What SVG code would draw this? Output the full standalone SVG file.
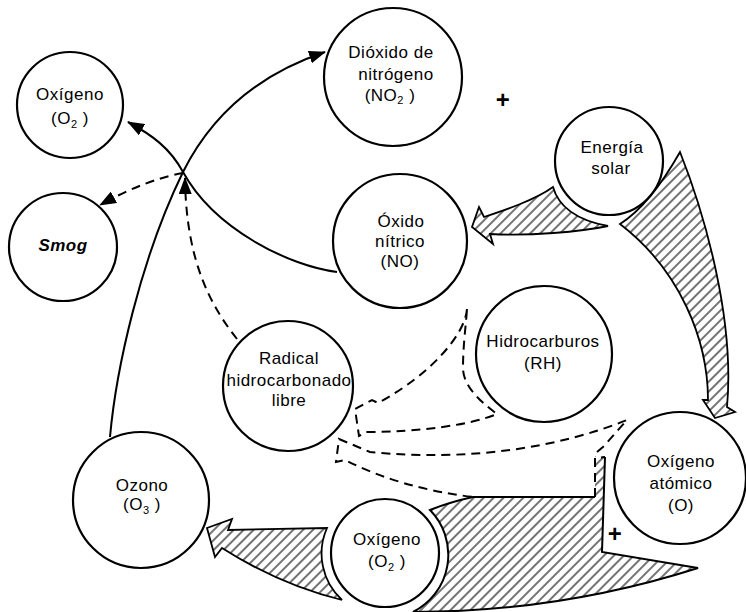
<svg xmlns="http://www.w3.org/2000/svg" width="746" height="612" viewBox="0 0 746 612">
<style>
  .node circle { fill: #fff; stroke: #000; stroke-width: 2.2; }
  text { font-family: "Liberation Sans", Arial, sans-serif; font-size: 17px; fill: #000; text-anchor: middle; letter-spacing: 0.5px; }
  .sub { font-size: 11px; }
  .plus { font-size: 24px; font-weight: bold; }
  .solid { fill: none; stroke: #000; stroke-width: 2; }
  .dash { fill: none; stroke: #000; stroke-width: 2; stroke-dasharray: 9 6; }
  .hatch { fill: url(#hatch); stroke: none; }
  .hout { fill: url(#hatch); stroke: #000; stroke-width: 1.8; stroke-linejoin: miter; }
</style>
<defs>
  <pattern id="hatch" patternUnits="userSpaceOnUse" width="7" height="7" patternTransform="rotate(45)">
    <line x1="1" y1="0" x2="1" y2="7" stroke="#000" stroke-width="1.1"/>
  </pattern>
  <marker id="ah" markerUnits="userSpaceOnUse" markerWidth="17" markerHeight="13" refX="16" refY="6.5" orient="auto">
    <path d="M0,0 L17,6.5 L0,13 Z" fill="#000"/>
  </marker>
</defs>
<rect width="746" height="612" fill="#fff"/>

<g id="connectors">
  <!-- hatched: Energia solar -> Oxido nitrico -->
  <path class="hout" d="M553,187 C558,205 575,220 608,226 C580,232 530,236 490,234 L493,244 L472,227 L479,207 L484,217 C505,210 535,200 553,187 Z"/>
  <!-- hatched: Energia solar -> Oxigeno atomico -->
  <path class="hout" d="M620,224 Q650,205 680,152 C705,215 735,320 727,407 L735,412 L715,418 L703,400 L708,400 C708,340 680,270 620,224 Z"/>
  <!-- hatched: Oxigeno -> Ozono -->
  <path class="hout" d="M327,528 A63,63 0 0 0 342,600 Q280,585 222,548 L215,557 L207,528 L232,519 L228,530 Z"/>
  <!-- big hatched shape: Oxigeno atomico + Oxigeno -->
  <path class="hatch" d="M430,510 Q450,502 473,497 L595,497 L595,456 L605,456 L602,552 L698,568 Q560,612 413,612 A64,64 0 0 0 430,510 Z"/>
  <path class="solid" stroke-width="1.8" d="M595,497 L473,497 Q450,502 430,510 A64,64 0 0 1 413,612 Q560,612 698,568 L602,552 L605,457"/>
  <path class="dash" stroke-width="1.8" stroke-dasharray="7 5" d="M595,497 L595,458 L605,457"/>
  <!-- dashed wide arrow: Hidrocarburos -> Radical -->
  <path class="dash" stroke-width="1.8" stroke-dasharray="8 6" d="M467,309 C465,335 430,375 378,403 L372,400 L355,409 L359,436 L366,432 C420,432 470,425 497,414 C478,400 463,385 463,368 C463,345 466,325 467,309"/>
  <!-- dashed wide arrow: Oxigeno atomico -> Radical -->
  <path class="dash" stroke-width="1.8" stroke-dasharray="8 6" d="M597,452 L604,446 L627,420 C560,447 470,462 370,452 L358,447 L339,439 L336,462 L345,460 Q400,488 473,497"/>
  <!-- solid: Ozono -> Dioxido de nitrogeno -->
  <path class="solid" marker-end="url(#ah)" d="M110,437 C116,370 140,260 183,172 C215,108 265,72 325,52"/>
  <!-- solid: Oxido nitrico -> Oxigeno -->
  <path class="solid" marker-end="url(#ah)" d="M337,272 C290,266 215,230 183,172 C170,148 152,135 128,122"/>
  <!-- dashed: Radical -> crossing -->
  <path class="dash" marker-end="url(#ah)" d="M237,339 C210,305 186,260 185,178"/>
  <!-- dashed: crossing -> Smog -->
  <path class="dash" marker-end="url(#ah)" d="M183,173 Q145,180 100,205"/>
</g>

<g id="oxigeno-o2-top" class="node">
  <circle cx="70" cy="105" r="53"/>
  <text x="70" y="100">Oxígeno</text>
  <text x="70" y="124">(O<tspan class="sub" dy="4">2</tspan><tspan dy="-4"> )</tspan></text>
</g>
<g id="smog" class="node">
  <circle cx="63" cy="247" r="54"/>
  <text x="63" y="251" font-style="italic" font-weight="bold">Smog</text>
</g>
<g id="dioxido-nitrogeno" class="node">
  <circle cx="393" cy="77" r="69"/>
  <text x="391" y="58">Dióxido de</text>
  <text x="396" y="80">nitrógeno</text>
  <text x="390" y="101">(NO<tspan class="sub" dy="3">2</tspan><tspan dy="-3"> )</tspan></text>
</g>
<g id="energia-solar" class="node">
  <circle cx="609" cy="161" r="54"/>
  <text x="612" y="153">Energía</text>
  <text x="611" y="174">solar</text>
</g>
<g id="oxido-nitrico" class="node">
  <circle cx="400" cy="241" r="67"/>
  <text x="401" y="227">Óxido</text>
  <text x="400" y="247">nítrico</text>
  <text x="400" y="267">(NO)</text>
</g>
<g id="hidrocarburos" class="node">
  <circle cx="544" cy="354" r="68"/>
  <text x="543" y="347">Hidrocarburos</text>
  <text x="543" y="369">(RH)</text>
</g>
<g id="radical-hidrocarbonado" class="node">
  <circle cx="288" cy="386" r="65"/>
  <text x="289" y="364">Radical</text>
  <text x="289" y="386">hidrocarbonado</text>
  <text x="289" y="406">libre</text>
</g>
<g id="ozono" class="node">
  <circle cx="141" cy="500" r="68"/>
  <text x="142" y="491">Ozono</text>
  <text x="142" y="510">(O<tspan class="sub" dy="4">3</tspan><tspan dy="-4"> )</tspan></text>
</g>
<g id="oxigeno-o2-bottom" class="node">
  <circle cx="385" cy="553" r="54"/>
  <text x="387" y="545">Oxígeno</text>
  <text x="387" y="567">(O<tspan class="sub" dy="4">2</tspan><tspan dy="-4"> )</tspan></text>
</g>
<g id="oxigeno-atomico" class="node">
  <circle cx="680" cy="478" r="66"/>
  <text x="681" y="467">Oxígeno</text>
  <text x="681" y="489">atómico</text>
  <text x="681" y="511">(O)</text>
</g>

<text class="plus" x="503" y="108">+</text>
<text class="plus" x="615" y="542">+</text>
</svg>
